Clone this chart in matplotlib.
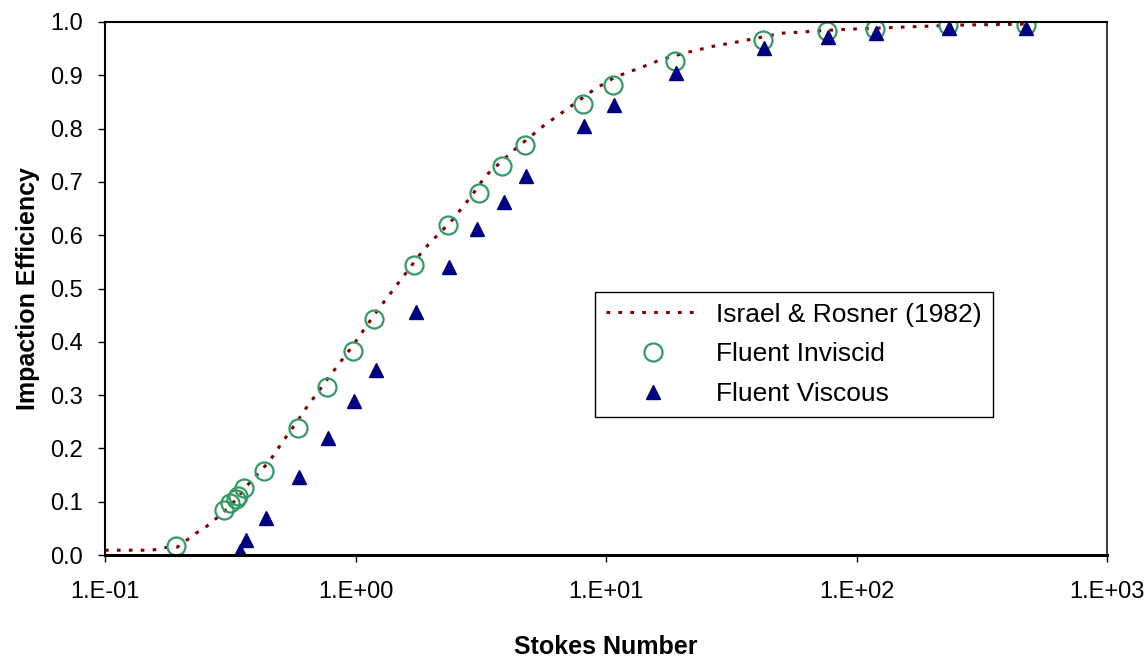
import matplotlib
matplotlib.use("Agg")
import matplotlib.pyplot as plt
from matplotlib.ticker import FixedLocator, FixedFormatter, NullLocator

plt.rcParams["font.family"] = ["Liberation Sans", "DejaVu Sans"]

# Israel & Rosner (1982) correlation
curve_stk = [0.1, 0.154, 0.175, 0.195, 0.231, 0.255, 0.277, 0.306, 0.332, 0.383,
             0.421, 0.455, 0.518, 0.584, 0.627, 0.787, 0.973, 1.19, 1.47, 1.81,
             1.95, 2.43, 2.92, 3.30, 4.30, 5.66, 6.91, 8.95, 10.9, 13.7,
             16.7, 20.7, 26.5, 32.9, 50.4, 87.4, 146, 243, 473]
curve_eff = [0.009, 0.009, 0.014, 0.015, 0.041, 0.054, 0.068, 0.086, 0.103, 0.139,
             0.159, 0.177, 0.216, 0.250, 0.272, 0.335, 0.392, 0.451, 0.508, 0.564,
             0.582, 0.628, 0.675, 0.711, 0.760, 0.806, 0.835, 0.873, 0.897, 0.914,
             0.930, 0.942, 0.954, 0.962, 0.979, 0.986, 0.990, 0.994, 0.996]

# Fluent inviscid
inv_stk = [0.192, 0.299, 0.316, 0.332, 0.340, 0.359, 0.430, 0.592, 0.767, 0.973,
           1.19, 1.72, 2.35, 3.12, 3.86, 4.75, 8.10, 10.66, 18.9, 42.3,
           76.2, 119, 231, 473]
inv_eff = [0.017, 0.084, 0.097, 0.106, 0.111, 0.126, 0.158, 0.238, 0.315, 0.383,
           0.443, 0.544, 0.619, 0.680, 0.729, 0.769, 0.846, 0.881, 0.926, 0.966,
           0.983, 0.986, 0.994, 0.994]

# Fluent viscous
vis_stk = [0.345, 0.365, 0.438, 0.594, 0.774, 0.983, 1.21, 1.74, 2.37, 3.06,
           3.91, 4.79, 8.15, 10.77, 19.0, 42.7, 77.1, 120, 233, 477]
vis_eff = [0.007, 0.029, 0.070, 0.147, 0.219, 0.288, 0.348, 0.456, 0.541, 0.612,
           0.663, 0.711, 0.804, 0.844, 0.904, 0.952, 0.972, 0.980, 0.988, 0.989]

x_ticks = [0.1, 1, 10, 100, 1000]
x_labels = ["1.E-01", "1.E+00", "1.E+01", "1.E+02", "1.E+03"]
y_ticks = [i / 10 for i in range(11)]

fig = plt.figure(figsize=(11.47, 6.6), dpi=100)
ax = fig.add_axes([105 / 1147, 1 - 555 / 660, 1002 / 1147, 533 / 660])

ax.plot(curve_stk, curve_eff, color="#800000", lw=2.2, linestyle=(0, (1.2, 2.7)),
        label="Israel & Rosner (1982)")
ax.plot(inv_stk, inv_eff, linestyle="none", marker="o", markersize=13,
        markerfacecolor="none", markeredgecolor="#339966", markeredgewidth=1.6,
        label="Fluent Inviscid")
ax.plot(vis_stk, vis_eff, linestyle="none", marker="^", markersize=10.5,
        color="#000080", label="Fluent Viscous")

ax.set_xscale("log")
ax.set_xlim(0.1, 1000)
ax.set_ylim(0, 1.0)
ax.xaxis.set_major_locator(FixedLocator(x_ticks))
ax.xaxis.set_major_formatter(FixedFormatter(x_labels))
ax.xaxis.set_minor_locator(NullLocator())
ax.set_yticks(y_ticks)
ax.set_yticklabels([f"{v:.1f}" for v in y_ticks])

ax.tick_params(axis="y", direction="out", length=5, width=1, pad=11, labelsize=17)
ax.tick_params(axis="x", direction="out", length=5, width=1, pad=14, labelsize=17)

for side in ["left", "top"]:
    ax.spines[side].set_linewidth(1.5)
    ax.spines[side].set_color("black")
ax.spines["bottom"].set_linewidth(2.2)
ax.spines["right"].set_linewidth(1.5)
ax.spines["right"].set_color("#444444")

ax.set_xlabel("Stokes Number", fontsize=18, fontweight="bold")
ax.set_ylabel("Impaction Efficiency", fontsize=18, fontweight="bold")
ax.xaxis.set_label_coords(0.5, -0.150)
ax.yaxis.set_label_coords(-0.065, 0.5)

leg = ax.legend(loc="upper left", bbox_to_anchor=(0.489, 0.4934), borderaxespad=0,
                fontsize=19, frameon=True, fancybox=False, framealpha=1,
                edgecolor="black", handlelength=3.6, handletextpad=0.6,
                borderpad=0.4, labelspacing=0.6)
leg.get_frame().set_linewidth(1.0)

fig.savefig("out.png", dpi=100)
